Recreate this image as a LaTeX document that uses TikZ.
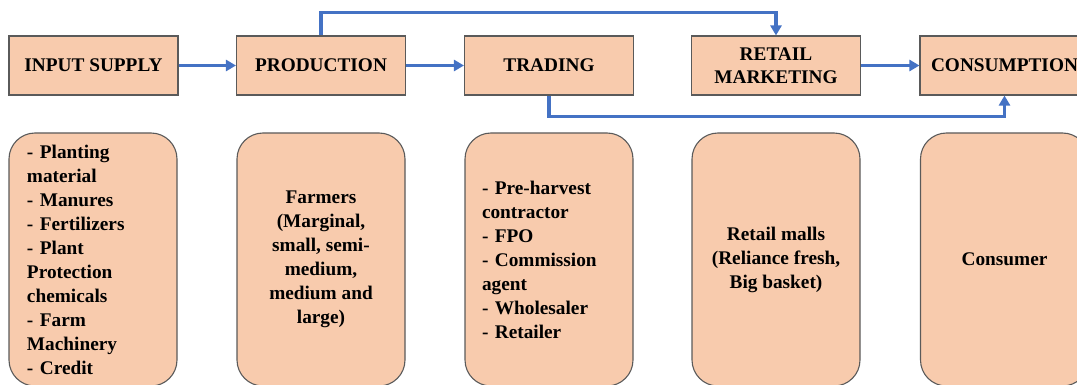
\documentclass[tikz,border=0pt]{standalone}
\usepackage{fontspec}
\setmainfont{Liberation Serif}[BoldFont={Liberation Serif Bold}]
\usetikzlibrary{arrows.meta}
\definecolor{peach}{HTML}{F8CBAD}
\definecolor{edge}{HTML}{5A5A5A}
\definecolor{flow}{HTML}{4472C4}
\tikzset{
  stage/.style={draw=edge, line width=1.1pt, fill=peach, minimum width=169pt, minimum height=59pt,
    inner sep=0pt, align=center, font=\rmfamily\bfseries\fontsize{19.3}{23}\selectfont},
  detail/.style={draw=edge, line width=1.1pt, fill=peach, minimum width=168pt, minimum height=253pt,
    rounded corners=26pt, inner sep=0pt, font=\rmfamily\bfseries\fontsize{19.3}{24}\selectfont},
  flowline/.style={draw=flow, line width=3.5pt, -{Triangle[length=10pt,width=11pt]}}
}
\begin{document}
\begin{tikzpicture}[x=1pt,y=-1pt]
\useasboundingbox (0,0) rectangle (1077,385);
\clip (0,0) rectangle (1077,385);
% top stages
\node[stage] (inp) at (93.5,65.5) {INPUT SUPPLY};
\node[stage] (prod) at (321,65.5) {PRODUCTION};
\node[stage] (trad) at (549,65.5) {TRADING};
\node[stage] (ret) at (776,65.5) {RETAIL\\MARKETING};
\node[stage] (cons) at (1004.5,65.5) {CONSUMPTION};
% detail boxes
\node[detail, align=left, text width=132pt] (d1) at (93,259.5) {- Planting\\material\\- Manures\\- Fertilizers\\- Plant\\Protection\\chemicals\\- Farm\\Machinery\\- Credit};
\node[detail, align=center] (d2) at (321,259.5) {Farmers\\(Marginal,\\small, semi-\\medium,\\medium and\\large)};
\node[detail, align=left, text width=134pt] (d3) at (549,259.5) {- Pre-harvest\\contractor\\- FPO\\- Commission\\agent\\- Wholesaler\\- Retailer};
\node[detail, align=center] (d4) at (776,259.5) {Retail malls\\(Reliance fresh,\\Big basket)};
\node[detail, align=center] (d5) at (1004.5,259.5) {Consumer};
% connectors
\draw[flowline] (inp) -- (prod);
\draw[flowline] (prod) -- (trad);
\draw[flowline] (ret) -- (cons);
\draw[flowline] (prod.north) -- ++(0,-23) -| (ret.north);
\draw[flowline] (trad.south) -- ++(0,21) -| (cons.south);
\end{tikzpicture}
\end{document}
